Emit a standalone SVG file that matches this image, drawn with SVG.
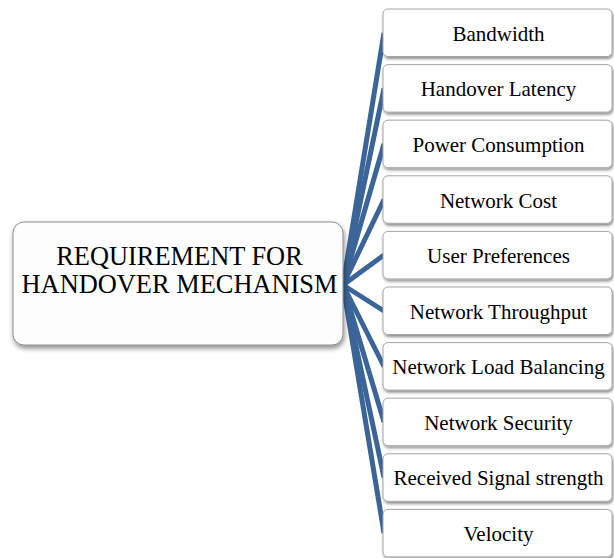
<svg xmlns="http://www.w3.org/2000/svg" width="614" height="558" viewBox="0 0 614 558">
<defs>
<filter id="sh" x="-10%" y="-20%" width="125%" height="150%">
<feDropShadow dx="1" dy="2" stdDeviation="1.5" flood-color="#000" flood-opacity="0.45"/>
</filter>
<filter id="shm" x="-10%" y="-10%" width="125%" height="130%">
<feDropShadow dx="1" dy="3" stdDeviation="2.5" flood-color="#000" flood-opacity="0.45"/>
</filter>
</defs>
<style>
.c{stroke:#3b6598;stroke-width:5;fill:none;stroke-linecap:butt}
.b{fill:#ffffff;stroke:#a6a6a6;stroke-width:1;filter:url(#sh)}
.m{fill:#fdfdfd;stroke:#8c8c8c;stroke-width:1;filter:url(#shm)}
.t{font-family:"Liberation Serif","Times New Roman",serif;font-size:21px;fill:#000;text-anchor:middle}
.tm{font-family:"Liberation Serif","Times New Roman",serif;font-size:26.4px;fill:#000;text-anchor:middle}
</style>
<g id="connectors">
<line class="c" x1="343" y1="285" x2="384" y2="33"/>
<line class="c" x1="343" y1="285" x2="384" y2="88.5"/>
<line class="c" x1="343" y1="285" x2="384" y2="144"/>
<line class="c" x1="343" y1="285" x2="384" y2="199.5"/>
<line class="c" x1="343" y1="285" x2="384" y2="255"/>
<line class="c" x1="343" y1="285" x2="384" y2="311"/>
<line class="c" x1="343" y1="285" x2="384" y2="366.5"/>
<line class="c" x1="343" y1="285" x2="384" y2="422"/>
<line class="c" x1="343" y1="285" x2="384" y2="477.5"/>
<line class="c" x1="343" y1="285" x2="384" y2="533"/>
</g>
<g id="root">
<rect class="m" x="13" y="222" width="330" height="123" rx="11"/>
<text class="tm" x="179.5" y="265">REQUIREMENT FOR</text>
<text class="tm" x="179.5" y="293">HANDOVER MECHANISM</text>
</g>
<g id="n1"><rect class="b" x="383" y="9" width="229" height="47.5" rx="5"/><text class="t" x="498.5" y="40.5">Bandwidth</text></g>
<g id="n2"><rect class="b" x="383" y="64.6" width="229" height="47.5" rx="5"/><text class="t" x="498.5" y="96">Handover Latency</text></g>
<g id="n3"><rect class="b" x="383" y="120.2" width="229" height="47.5" rx="5"/><text class="t" x="498.5" y="151.7">Power Consumption</text></g>
<g id="n4"><rect class="b" x="383" y="175.8" width="229" height="47.5" rx="5"/><text class="t" x="498.5" y="207.5">Network Cost</text></g>
<g id="n5"><rect class="b" x="383" y="231.4" width="229" height="47.5" rx="5"/><text class="t" x="498.5" y="263">User Preferences</text></g>
<g id="n6"><rect class="b" x="383" y="287" width="229" height="47.5" rx="5"/><text class="t" x="498.5" y="318.5">Network Throughput</text></g>
<g id="n7"><rect class="b" x="383" y="342.6" width="229" height="47.5" rx="5"/><text class="t" x="498.5" y="374">Network Load Balancing</text></g>
<g id="n8"><rect class="b" x="383" y="398.2" width="229" height="47.5" rx="5"/><text class="t" x="498.5" y="429.7">Network Security</text></g>
<g id="n9"><rect class="b" x="383" y="453.8" width="229" height="47.5" rx="5"/><text class="t" x="498.5" y="485.3">Received Signal strength</text></g>
<g id="n10"><rect class="b" x="383" y="509.4" width="229" height="47.5" rx="5"/><text class="t" x="498.5" y="541">Velocity</text></g>
</svg>
